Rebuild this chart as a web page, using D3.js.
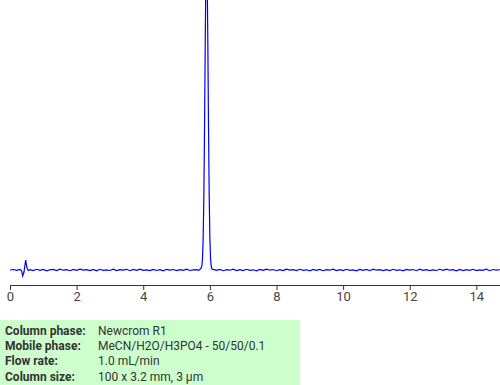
<!DOCTYPE html>
<html><head><meta charset="utf-8">
<script src="https://cdn.jsdelivr.net/npm/d3@7"></script>
<style>
html,body{margin:0;padding:0;background:#fff;}
svg{display:block;}
</style></head>
<body>
<script>
const times = [
0,0.1,0.2,0.3,0.35,0.38,0.42,0.47,0.51,0.55,
0.6,0.7,0.8,0.9,1.0,1.1,1.2,1.3,1.4,1.5,1.6,1.7,1.8,1.9,2.0,2.1,2.2,2.3,2.4,2.5,2.6,2.7,2.8,2.9,3.0,3.1,3.2,3.3,3.4,3.5,3.6,3.7,3.8,3.9,4.0,4.1,4.2,4.3,4.4,4.5,4.6,4.7,4.8,4.9,5.0,5.1,5.2,5.3,5.4,5.5,5.6,
5.66,5.70,5.74,5.76,5.78,5.80,5.82,5.84,5.86,5.88,5.90,5.92,5.94,5.96,5.98,6.00,6.02,6.04,6.06,
6.1,6.2,6.3,6.4,6.5,6.6,6.7,6.8,6.9,7.0,7.1,7.2,7.3,7.4,7.5,7.6,7.7,7.8,7.9,8.0,8.1,8.2,8.3,8.4,8.5,8.6,8.7,8.8,8.9,9.0,9.1,9.2,9.3,9.4,9.5,9.6,9.7,9.8,9.9,10.0,10.1,10.2,10.3,10.4,10.5,10.6,10.7,10.8,10.9,11.0,11.1,11.2,11.3,11.4,11.5,11.6,11.7,11.8,11.9,12.0,12.1,12.2,12.3,12.4,12.5,12.6,12.7,12.8,12.9,13.0,13.1,13.2,13.3,13.4,13.5,13.6,13.7,13.8,13.9,14.0,14.1,14.2,14.3,14.4,14.5,14.6,14.7
];
const signal = [
0,0.5,-0.4,0.6,-1,-6,-2,10,2,-0.5,
0.3,-0.6,0.7,-0.3,0.5,-0.8,0.2,0.6,-0.5,0.8,
-0.2,0.4,-0.7,0.6,-0.4,0.9,-0.1,0.3,-0.6,0.5,
-0.8,0.7,-0.3,0.2,-0.5,0.8,-0.6,0.4,-0.2,0.7,
-0.7,0.5,-0.4,0.9,-0.3,0.1,-0.6,0.6,-0.5,0.3,
-0.8,0.7,-0.2,0.5,-0.6,0.4,-0.3,0.8,-0.5,0.2,
0.4,
-0.3,0.5,2,4,12,33,75,142,223,292,320,292,223,142,75,33,12,4,1,
0.6,-0.4,0.5,-0.7,0.3,-0.2,0.8,-0.5,0.4,-0.6,
0.7,-0.3,0.2,-0.8,0.6,-0.4,0.9,-0.2,0.5,-0.7,
0.3,-0.5,0.8,-0.1,0.4,-0.6,0.7,-0.4,0.2,-0.8,
0.5,-0.3,0.6,-0.7,0.4,-0.2,0.9,-0.5,0.3,-0.6,
0.7,-0.4,0.1,-0.8,0.6,-0.3,0.5,-0.7,0.8,-0.2,
0.4,-0.6,0.3,-0.5,0.7,-0.4,0.2,-0.8,0.6,-0.1,
0.5,-0.7,0.8,-0.3,0.4,-0.6,0.2,-0.5,0.7,-0.4,
0.9,-0.2,0.3,-0.8,0.6,-0.5,0.4,-0.3,0.7,-0.6,
0.2,-0.4,0.8,-0.7,0.5,-0.2,0.3
];
const xTicks = [0,2,4,6,8,10,12,14];
const infoLabels = ["Column phase:","Mobile phase:","Flow rate:","Column size:"];
const infoValues = ["Newcrom R1","MeCN/H2O/H3PO4 - 50/50/0.1","1.0 mL/min","100 x 3.2 mm, 3 \u00b5m"];

const W = 500, H = 385;
const svg = d3.select("body").append("svg").attr("width", W).attr("height", H);

const x = d3.scaleLinear().domain([0, 14.71]).range([10, 500]);
const y = d3.scaleLinear().domain([0, 270]).range([270, 0]);

const data = times.map((t, i) => [t, signal[i]]);
svg.append("path")
  .datum(data)
  .attr("fill", "none")
  .attr("stroke", "#0000ff")
  .attr("stroke-width", 1.2)
  .attr("d", d3.line().x(d => x(d[0])).y(d => y(d[1])));

const axis = svg.append("g")
  .attr("transform", "translate(0,285)")
  .call(d3.axisBottom(x).tickValues(xTicks).tickSize(5).tickSizeOuter(0).tickFormat(d3.format("d")));
axis.select(".domain").attr("stroke", "#333");
axis.selectAll(".tick line").attr("stroke", "#333");
axis.selectAll(".tick text").attr("fill", "#444").attr("font-family", "Roboto, sans-serif").attr("font-size", 13).attr("dy", "0.75em").attr("y", 6);

const info = svg.append("g");
info.append("rect").attr("x", 0).attr("y", 320).attr("width", 300).attr("height", 65).attr("fill", "#ccffcc");
const rowY = d3.scalePoint().domain(infoLabels).range([334.5, 380.5]);
info.selectAll("text.lab").data(infoLabels).join("text")
  .attr("class", "lab").attr("x", 5).attr("y", d => rowY(d))
  .attr("font-family", "Roboto, sans-serif").attr("font-size", 12).attr("font-weight", "bold").attr("fill", "#333")
  .text(d => d);
info.selectAll("text.val").data(infoValues).join("text")
  .attr("class", "val").attr("x", 98).attr("y", (d, i) => rowY(infoLabels[i]))
  .attr("font-family", "Roboto, sans-serif").attr("font-size", 12).attr("fill", "#333")
  .text(d => d);
</script>
</body></html>
